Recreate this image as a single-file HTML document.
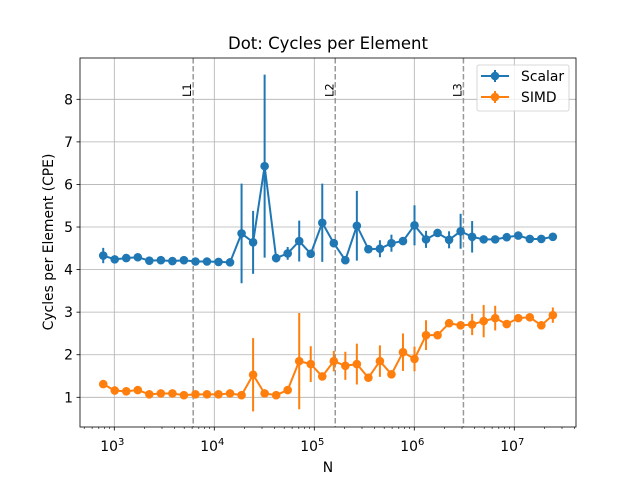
<!DOCTYPE html>
<html><head><meta charset="utf-8"><style>
body{margin:0;background:#fff;}
svg{display:block;font-family:"DejaVu Sans","Liberation Sans",sans-serif;}
</style></head><body>
<svg id="chart" width="640" height="480" viewBox="0 0 640 480"></svg>
<script>
const N = [775,1010,1317,1718,2240,2922,3810,4968,6479,8449,11017,14367,18735,24431,31860,41546,54177,70650,92130,120140,156670,204300,266410,347410,453030,590770,770380,1004600,1310000,1708300,2227700,2905000,3788200,4939900,6441900,8400500,10954000,14285000,18628000,24292000];
const scalarVals = [4.33,4.24,4.27,4.29,4.21,4.22,4.20,4.22,4.19,4.19,4.18,4.17,4.85,4.64,6.43,4.27,4.38,4.67,4.37,5.10,4.62,4.22,5.03,4.48,4.49,4.62,4.67,5.04,4.71,4.86,4.70,4.90,4.77,4.71,4.71,4.76,4.80,4.72,4.72,4.77];
const scalarErr = [0.18,0.05,0.05,0.05,0.05,0.05,0.05,0.05,0.05,0.05,0.05,0.05,1.17,0.74,2.15,0.1,0.15,0.48,0.05,0.92,0.07,0.05,0.82,0.05,0.2,0.2,0.05,0.47,0.2,0.05,0.2,0.41,0.37,0.05,0.05,0.05,0.08,0.05,0.05,0.05];
const simdVals = [1.31,1.16,1.14,1.17,1.07,1.09,1.09,1.05,1.07,1.07,1.07,1.09,1.05,1.53,1.09,1.05,1.17,1.85,1.78,1.49,1.85,1.74,1.78,1.46,1.85,1.54,2.06,1.90,2.46,2.46,2.74,2.69,2.71,2.79,2.86,2.72,2.86,2.88,2.69,2.93];
const simdErr = [0.05,0.1,0.05,0.05,0.05,0.05,0.05,0.05,0.05,0.05,0.05,0.05,0.05,0.86,0.05,0.05,0.05,1.13,0.42,0.05,0.24,0.33,0.48,0.05,0.37,0.05,0.44,0.29,0.35,0.05,0.05,0.05,0.25,0.38,0.29,0.05,0.05,0.05,0.05,0.18];
const yTicks = [1,2,3,4,5,6,7,8];
const xTickExps = [3,4,5,6,7];
const cacheLabels = ["L1","L2","L3"];
const cacheSizes = [6150,162000,3100000];

const L=80,R=576,T=58,B=427;
const X0log=3, X0px=114.3, PXD=100;
const xs = v => X0px + (Math.log10(v)-X0log)*PXD;
const yPer=42.57, yBase=397.3;
const ys = v => yBase - (v-1)*yPer;
const svg=document.getElementById('chart');
const NS='http://www.w3.org/2000/svg';
function mk(tag,attrs,parent){const e=document.createElementNS(NS,tag);for(const k in attrs)e.setAttribute(k,attrs[k]);(parent||svg).appendChild(e);return e;}

let t=mk('text',{x:328,y:49,'text-anchor':'middle','font-size':16.5});t.textContent='Dot: Cycles per Element';



const grid=mk('g',{stroke:'#b0b0b0','stroke-width':0.8});


xTickExps.forEach(e=>{const x=xs(Math.pow(10,e));mk('line',{x1:x,x2:x,y1:T,y2:B},grid);});
yTicks.forEach(v=>{const y=ys(v);mk('line',{x1:L,x2:R,y1:y,y2:y},grid);});

const xt=mk('g',{});


for(let e=2;e<=7;e++){for(let m=1;m<10;m++){const v=m*Math.pow(10,e);const x=xs(v);if(x<L||x>R)continue;
 mk('line',{x1:x,x2:x,y1:B,y2:B+(m==1?3.5:2),stroke:'#000','stroke-width':m==1?0.8:0.6},xt);}}
xTickExps.forEach(e=>{const x=xs(Math.pow(10,e));const tx=mk('text',{x:x-2,y:451,'text-anchor':'middle','font-size':13.9},xt);
 tx.textContent='10';const s=mk('tspan',{dy:-6,'font-size':10},tx);s.textContent=String(e);
 
 });
const yt=mk('g',{});


yTicks.forEach(v=>{const y=ys(v);mk('line',{x1:L-3.5,x2:L,y1:y,y2:y,stroke:'#000','stroke-width':0.8},yt);
 const tx=mk('text',{x:L-7,y:y+5,'text-anchor':'end','font-size':13.9},yt);tx.textContent=String(v);
 
 });

let xl=mk('text',{x:328,y:472,'text-anchor':'middle','font-size':13.9});xl.textContent='N';


let yl=mk('text',{x:0,y:0,'text-anchor':'middle','font-size':13.9,transform:'translate(53,242) rotate(-90)'});yl.textContent='Cycles per Element (CPE)';



cacheSizes.forEach((s,i)=>{const x=xs(s);
 const ln=mk('line',{x1:x,x2:x,y1:T,y2:B,stroke:'#999','stroke-width':1.5,'stroke-dasharray':'5.5,2.5'});
 
 
 const tx=mk('text',{x:0,y:0,'font-size':11.5,transform:`translate(${x-2},97) rotate(-90)`});tx.textContent=cacheLabels[i];
 
 });

function series(vals,err,color,name){
 const g=mk('g',{});
 
 
 vals.forEach((v,i)=>{const x=xs(N[i]);const e=mk('line',{x1:x,x2:x,y1:ys(v-err[i]),y2:ys(v+err[i]),stroke:color,'stroke-width':2},g);
  
  });
 const p=mk('polyline',{points:vals.map((v,i)=>xs(N[i])+','+ys(v)).join(' '),fill:'none',stroke:color,'stroke-width':2},g);
 
 
 vals.forEach((v,i)=>{const c=mk('circle',{cx:xs(N[i]),cy:ys(v),r:4.3,fill:color},g);
  
  });
}
series(scalarVals,scalarErr,'#1f77b4','scalar');
series(simdVals,simdErr,'#ff7f0e','simd');

const fr=mk('rect',{x:L,y:T,width:R-L,height:B-T,fill:'none',stroke:'#000','stroke-width':0.8});



const lg=mk('g',{});


mk('rect',{x:477,y:65,width:92,height:46,rx:2,fill:'#fff','fill-opacity':0.8,stroke:'#ccc','stroke-width':0.8},lg);
[['Scalar','#1f77b4',76],['SIMD','#ff7f0e',97]].forEach(([lab,c,y])=>{
 const e=mk('g',{},lg);
 
 
 mk('line',{x1:481,x2:509,y1:y,y2:y,stroke:c,'stroke-width':2},e);
 mk('line',{x1:495,x2:495,y1:y-6,y2:y+6,stroke:c,'stroke-width':2},e);
 mk('circle',{cx:495,cy:y,r:4.3,fill:c},e);
 const tx=mk('text',{x:521,y:y+5,'font-size':13.9},e);tx.textContent=lab;});
</script>
</body></html>
